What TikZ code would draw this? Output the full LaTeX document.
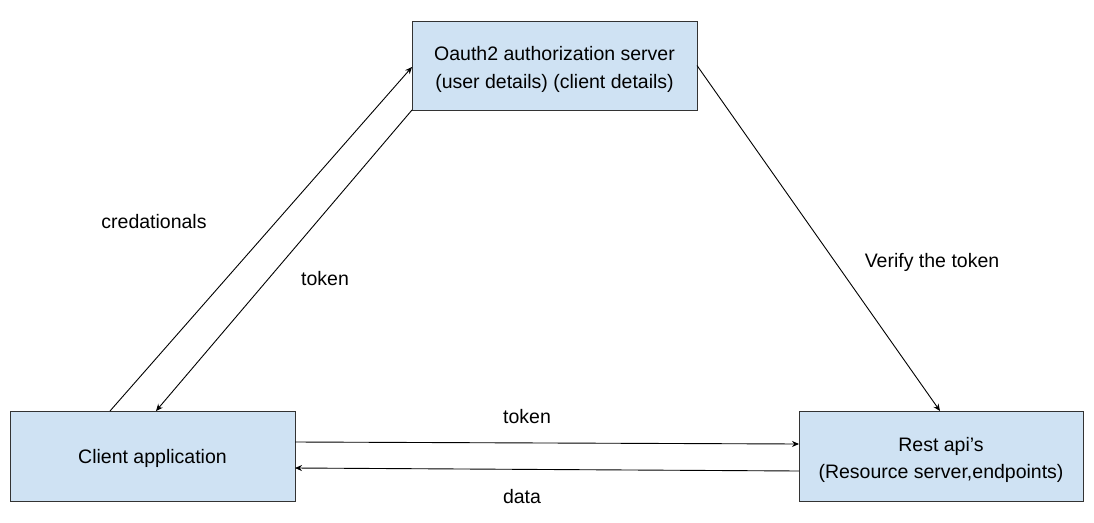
\documentclass[tikz,border=0pt]{standalone}
\usepackage{fontspec}
\setmainfont{Liberation Sans}
\usetikzlibrary{arrows.meta}
\definecolor{boxfill}{HTML}{CFE2F3}
\definecolor{boxline}{HTML}{333333}
\tikzset{
  box/.style={draw=boxline, fill=boxfill, line width=1pt, inner sep=0pt, outer sep=0pt},
  boxtext/.style={align=center, inner sep=0pt, yshift=-4pt, font=\fontsize{19.5}{27.5}\selectfont},
  conn/.style={draw=black, line width=0.9pt, -{Stealth[length=7pt,width=6pt]}},
  lbl/.style={anchor=base, inner sep=0pt, font=\fontsize{19.5}{23}\selectfont}
}
\begin{document}
\begin{tikzpicture}[x=1pt,y=-1pt]
\useasboundingbox (0,0) rectangle (1094,522);
\fill[white] (0,0) rectangle (1094,522);
\node[box, minimum width=285pt, minimum height=89pt] (auth) at (554.5,65.5) {};
\node[boxtext] (authtext) at (auth.center) {Oauth2 authorization server\\(user details) (client details)};
\node[box, minimum width=285pt, minimum height=90pt] (client) at (152.5,456) {};
\node[boxtext, yshift=2pt] (clienttext) at (client.center) {Client application};
\node[box, minimum width=284pt, minimum height=90pt] (rest) at (941,456) {};
\node[boxtext] (resttext) at (rest.center) {Rest api’s\\(Resource server,endpoints)};
\draw[conn] ([xshift=100pt]client.north west) -- ([yshift=-1.5pt]auth.west);
\draw[conn] (auth.south west) -- ([xshift=146pt]client.north west);
\draw[conn] (auth.east) -- ([xshift=141pt]rest.north west);
\draw[conn] ([yshift=14pt]client.east) -- ([yshift=12pt]rest.west);
\draw[conn] ([yshift=-15pt]rest.west) -- ([yshift=-12pt]client.east);
\node[lbl] (l1) at (154,228) {credationals};
\node[lbl] (l2) at (325,285) {token};
\node[lbl] (l3) at (932,267) {Verify the token};
\node[lbl] (l4) at (527,423) {token};
\node[lbl] (l5) at (522,503) {data};
\end{tikzpicture}
\end{document}
